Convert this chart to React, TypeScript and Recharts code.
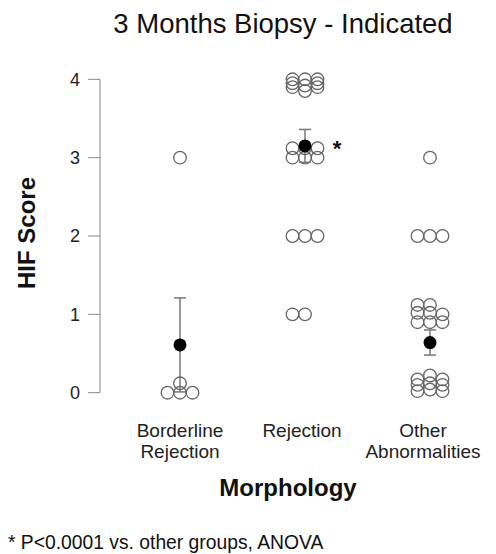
import React from 'react';
import { ScatterChart, Scatter, XAxis, YAxis, ErrorBar } from 'recharts';

// individual HIF scores (x = group index with small jitter)
const borderline = [
  { x: 1, y: 3 },
  { x: 0.9, y: 0 },
  { x: 1, y: 0 },
  { x: 1.1, y: 0 },
  { x: 1, y: 0.12 },
];

const rejection = [
  { x: 1.9, y: 4.0 }, { x: 1.9, y: 3.95 }, { x: 1.9, y: 3.9 },
  { x: 2, y: 4.0 }, { x: 2, y: 3.92 }, { x: 2, y: 3.85 },
  { x: 2.1, y: 4.0 }, { x: 2.1, y: 3.95 }, { x: 2.1, y: 3.9 },
  { x: 1.9, y: 3.12 }, { x: 1.9, y: 3.0 },
  { x: 2, y: 3.12 }, { x: 2, y: 3.0 },
  { x: 2.1, y: 3.12 }, { x: 2.1, y: 3.0 },
  { x: 1.9, y: 2 }, { x: 2, y: 2 }, { x: 2.1, y: 2 },
  { x: 1.9, y: 1 }, { x: 2, y: 1 },
];

const otherAbn = [
  { x: 3, y: 3 },
  { x: 2.9, y: 2 }, { x: 3, y: 2 }, { x: 3.1, y: 2 },
  { x: 2.9, y: 1.12 }, { x: 2.9, y: 1.02 }, { x: 2.9, y: 0.9 },
  { x: 3, y: 1.12 }, { x: 3, y: 1.02 }, { x: 3, y: 0.9 },
  { x: 3.1, y: 1.0 }, { x: 3.1, y: 0.9 },
  { x: 2.9, y: 0.17 }, { x: 2.9, y: 0.1 }, { x: 2.9, y: 0.02 },
  { x: 3, y: 0.22 }, { x: 3, y: 0.12 }, { x: 3, y: 0.04 },
  { x: 3.1, y: 0.17 }, { x: 3.1, y: 0.1 }, { x: 3.1, y: 0.02 },
];

// group mean +/- SE
const means = [
  { x: 1, y: 0.61, err: 0.6, sig: '' },
  { x: 2, y: 3.15, err: 0.21, sig: '*' },
  { x: 3, y: 0.64, err: 0.16, sig: '' },
];

const groupTicks = [1, 2, 3];
const groupLabels = [['Borderline', 'Rejection'], ['Rejection'], ['Other', 'Abnormalities']];
const yTicks = [0, 1, 2, 3, 4];

const FONT = '"Liberation Sans", Arial, Helvetica, sans-serif';
const labelShift = [0, -3, -7];

const OpenDot = (props: any) => {
  const { cx, cy } = props;
  return <circle cx={cx} cy={cy} r={6.3} fill="none" stroke="#666" strokeWidth={1.3} />;
};

const MeanDot = (props: any) => {
  const { cx, cy, payload } = props;
  return (
    <g>
      <circle cx={cx} cy={cy} r={6.5} fill="#000" />
      {payload.sig ? (
        <text x={cx + 32} y={cy + 10} textAnchor="middle" fontSize={22} fontWeight="bold" fontFamily={FONT} fill="#111">
          {payload.sig}
        </text>
      ) : null}
    </g>
  );
};

const GroupTick = (props: any) => {
  const { x, y, payload } = props;
  const i = groupTicks.indexOf(payload.value);
  const lines = groupLabels[i] || [];
  return (
    <text textAnchor="middle" fontSize={19} fontFamily={FONT} fill="#222">
      {lines.map((l, k) => (
        <tspan key={k} x={x + (labelShift[i] ?? 0)} y={y + 44 + k * 21}>{l}</tspan>
      ))}
    </text>
  );
};

export default function App() {
  return (
    <div style={{ position: 'absolute', left: 0, top: 0, width: 496, height: 554, background: '#fff' }}>
      <ScatterChart width={496} height={554} margin={{ top: 79.3, right: 3.5, bottom: 0, left: 0 }}>
        <XAxis
          type="number"
          dataKey="x"
          domain={[0.36, 3.5]}
          ticks={groupTicks}
          interval={0}
          axisLine={false}
          tickLine={false}
          tickSize={0}
          tickMargin={0}
          height={161.3}
          tick={<GroupTick />}
        />
        <YAxis
          type="number"
          dataKey="y"
          domain={[0, 4]}
          ticks={yTicks}
          width={100}
          tickSize={12}
          tickMargin={8}
          stroke="#888"
          tick={{ fill: '#222', fontSize: 18, fontFamily: FONT }}
        />
        <Scatter data={borderline} shape={<OpenDot />} isAnimationActive={false} />
        <Scatter data={rejection} shape={<OpenDot />} isAnimationActive={false} />
        <Scatter data={otherAbn} shape={<OpenDot />} isAnimationActive={false} />
        <Scatter data={means} shape={<MeanDot />} isAnimationActive={false}>
          <ErrorBar dataKey="err" direction="y" width={6} stroke="#777" strokeWidth={1.5} />
        </Scatter>
      </ScatterChart>
      <svg width={496} height={554} style={{ position: 'absolute', left: 0, top: 0, pointerEvents: 'none' }}>
        <text x={283} y={33} textAnchor="middle" fontSize={27.5} fontFamily={FONT} fill="#111">
          3 Months Biopsy - Indicated
        </text>
        <text
          transform="translate(35,233) rotate(-90)"
          textAnchor="middle"
          fontSize={24}
          fontWeight="bold"
          fontFamily={FONT}
          fill="#111"
        >
          HIF Score
        </text>
        <text x={288} y={496} textAnchor="middle" fontSize={24} fontWeight="bold" fontFamily={FONT} fill="#111">
          Morphology
        </text>
        <text x={8} y={549} fontSize={19.3} fontFamily={FONT} fill="#111">
          * P&lt;0.0001 vs. other groups, ANOVA
        </text>
      </svg>
    </div>
  );
}
